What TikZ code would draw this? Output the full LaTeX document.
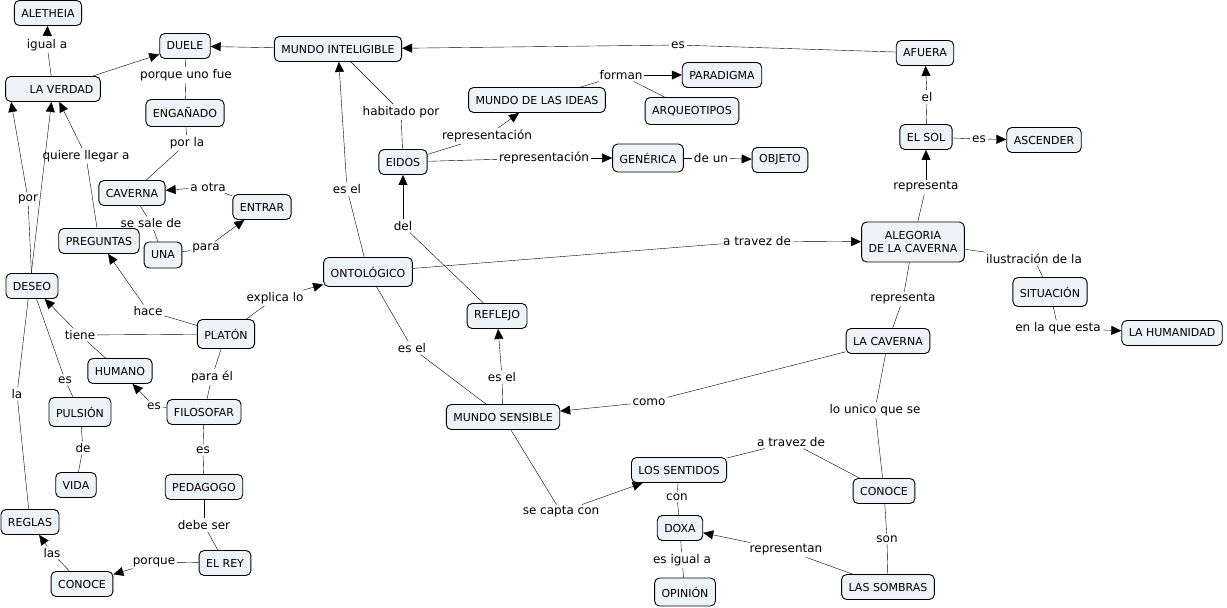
\documentclass[tikz,border=0pt]{standalone}
\usepackage{fontspec}
\setmainfont{DejaVu Sans}
\usetikzlibrary{arrows.meta,backgrounds}
\definecolor{cmapfill}{RGB}{237,243,246}

\begin{document}
\begin{tikzpicture}[x=1pt,y=-1pt,line width=0.9pt,
  concept/.style={draw,fill=cmapfill,rounded corners=5pt,minimum height=25pt,inner xsep=7pt,font=\fontsize{11}{13}\selectfont},
  phrase/.style={inner sep=1.5pt,font=\fontsize{12}{14}\selectfont},
  link/.style={-{Triangle[length=10pt,width=9pt]}}]
\useasboundingbox (0,0) rectangle (1227,608);

% concepts
\node (aletheia) at (48,13)[concept]{ALETHEIA};
\node (duele) at (185,46)[concept]{DUELE};
\node (mintel) at (338,49)[concept]{MUNDO INTELIGIBLE};
\node (verdad) at (53,89)[concept,minimum width=93pt]{\hspace*{17pt}LA VERDAD};
\node (enganado) at (185,113)[concept,minimum height=27pt]{ENGAÑADO};
\node (afuera) at (925,53)[concept]{AFUERA};
\node (paradigma) at (722,75)[concept]{PARADIGMA};
\node (ideas) at (537,100)[concept]{MUNDO DE LAS IDEAS};
\node (arqueo) at (692,111)[concept,minimum height=27pt]{ARQUEOTIPOS};
\node (sol) at (926,137)[concept]{EL SOL};
\node (ascender) at (1044,140)[concept]{ASCENDER};
\node (eidos) at (403,162)[concept]{EIDOS};
\node (generica) at (648,158)[concept,minimum height=28pt]{GENÉRICA};
\node (objeto) at (780,160)[concept]{OBJETO};
\node (caverna) at (132,193)[concept]{CAVERNA};
\node (entrar) at (262,207)[concept]{ENTRAR};
\node (preguntas) at (99,241)[concept]{PREGUNTAS};
\node (una) at (163,255)[concept,minimum height=26pt]{UNA};
\node (alegoria) at (913,242)[concept,align=center,minimum height=40pt]{ALEGORIA\\ DE LA CAVERNA};
\node (ontologico) at (368,272)[concept,minimum height=29pt]{ONTOLÓGICO};
\node (deseo) at (32,286)[concept]{DESEO};
\node (situacion) at (1050,292)[concept,minimum height=29pt]{SITUACIÓN};
\node (reflejo) at (497,316)[concept]{REFLEJO};
\node (platon) at (226,334)[concept,minimum height=29pt]{PLATÓN};
\node (humanidad) at (1172,333)[concept]{LA HUMANIDAD};
\node (lacaverna) at (888,341)[concept]{LA CAVERNA};
\node (humano) at (120,371)[concept]{HUMANO};
\node (pulsion) at (80,412)[concept,minimum height=29pt]{PULSIÓN};
\node (filosofar) at (204,412)[concept]{FILOSOFAR};
\node (msensible) at (503,417)[concept]{MUNDO SENSIBLE};
\node (sentidos) at (679,470)[concept]{LOS SENTIDOS};
\node (conoceb) at (884,491)[concept]{CONOCE};
\node (vida) at (76,485)[concept]{VIDA};
\node (pedagogo) at (204,487)[concept]{PEDAGOGO};
\node (reglas) at (30,522)[concept]{REGLAS};
\node (doxa) at (680,528)[concept]{DOXA};
\node (rey) at (225,563)[concept]{EL REY};
\node (conocea) at (82,584)[concept]{CONOCE};
\node (sombras) at (888,587)[concept]{LAS SOMBRAS};
\node (opinion) at (685,592)[concept,minimum height=28pt]{OPINIÓN};

% linking phrases
\node (igual) at (47,45)[phrase]{igual a};
\node (porque) at (186,75)[phrase]{porque uno fue};
\node (porla) at (187,143)[phrase]{por la};
\node (quiere) at (86,156)[phrase]{quiere llegar a};
\node (aotra) at (208,187)[phrase]{a otra};
\node (sesale) at (151,223)[phrase]{se sale de};
\node (para) at (206,248)[phrase]{para};
\node (por) at (28,199)[phrase]{por};
\node (hace) at (148,311)[phrase]{hace};
\node (explica) at (275,298)[phrase]{explica lo};
\node (tiene) at (80,335)[phrase]{tiene};
\node (parael) at (212,377)[phrase]{para él};
\node (esa) at (65,380)[phrase]{es};
\node (la) at (17,394)[phrase]{la};
\node (esb) at (154,406)[phrase]{es};
\node (de) at (83,448)[phrase]{de};
\node (esc) at (203,450)[phrase]{es};
\node (debe) at (204,525)[phrase]{debe ser};
\node (porq) at (154,562)[phrase]{porque};
\node (las) at (52,553)[phrase]{las};
\node (habitado) at (401,112)[phrase]{habitado por};
\node (forman) at (621,75)[phrase]{forman};
\node (repa) at (487,136)[phrase]{representación};
\node (repb) at (544,158)[phrase]{representación};
\node (deun) at (711,158)[phrase]{de un};
\node (ese) at (678,45)[phrase]{es};
\node (esela) at (347,189)[phrase]{es el};
\node (el) at (927,97)[phrase]{el};
\node (esd) at (979,139)[phrase]{es};
\node (repc) at (926,187)[phrase]{representa};
\node (del) at (403,226)[phrase]{del};
\node (atravesa) at (757,241)[phrase]{a travez de};
\node (eselb) at (412,348)[phrase]{es el};
\node (eselc) at (502,377)[phrase]{es el};
\node (como) at (649,402)[phrase]{como};
\node (ilustra) at (1034,259)[phrase]{ilustración de la};
\node (repd) at (903,299)[phrase]{representa};
\node (enla) at (1058,328)[phrase]{en la que esta};
\node (unico) at (875,410)[phrase]{lo unico que se};
\node (atravesb) at (791,442)[phrase]{a travez de};
\node (capta) at (561,512)[phrase]{se capta con};
\node (con) at (677,497)[phrase]{con};
\node (igualb) at (682,560)[phrase]{es igual a};
\node (representan) at (786,550)[phrase]{representan};
\node (son) at (887,539)[phrase]{son};

\begin{pgfonlayer}{background}
\draw (verdad) -- (igual); \draw[link] (igual) -- (aletheia);
\draw[link] (verdad) -- (duele);
\draw[link] (mintel) -- (duele);
\draw (duele) -- (porque); \draw (porque) -- (enganado);
\draw (enganado) -- (porla); \draw (porla) -- (caverna);
\draw (entrar) -- (aotra); \draw[link] (aotra) -- (caverna);
\draw (caverna) -- (sesale); \draw (sesale) -- (una);
\draw (una) -- (para); \draw[link] (para) -- (entrar);
\draw (deseo) -- (por); \draw[link] (por) -- ([xshift=6pt]verdad.south west);
\draw (reglas) -- (la); \draw[link] (la) -- (verdad);
\draw (preguntas) -- (quiere); \draw[link] (quiere) -- (verdad);
\draw (platon) -- (hace); \draw[link] (hace) -- (preguntas);
\draw (platon) -- (tiene); \draw (humano) -- (tiene); \draw[link] (tiene) -- (deseo);
\draw (platon) -- (explica); \draw[link] (explica) -- (ontologico);
\draw (platon) -- (parael); \draw (parael) -- (filosofar);
\draw (filosofar) -- (esb); \draw[link] (esb) -- (humano);
\draw (deseo) -- (esa); \draw (esa) -- (pulsion);
\draw (pulsion) -- (de); \draw (de) -- (vida);
\draw (filosofar) -- (esc); \draw (esc) -- (pedagogo);
\draw (pedagogo) -- (debe); \draw (debe) -- (rey);
\draw (rey) -- (porq); \draw[link] (porq) -- (conocea);
\draw (conocea) -- (las); \draw[link] (las) -- (reglas);
\draw (mintel) -- (habitado); \draw (habitado) -- (eidos);
\draw (ontologico) -- (esela); \draw[link] (esela) -- (mintel);
\draw (ontologico) -- (atravesa); \draw[link] (atravesa) -- (alegoria);
\draw (ontologico) -- (eselb); \draw (eselb) -- (msensible);
\draw (eidos) -- (repa); \draw[link] (repa) -- (ideas);
\draw (eidos) -- (repb); \draw[link] (repb) -- (generica);
\draw (generica) -- (deun); \draw[link] (deun) -- (objeto);
\draw (ideas) -- (forman); \draw[link] (forman) -- (paradigma); \draw (forman) -- (arqueo);
\draw (reflejo) -- (del); \draw[link] (del) -- (eidos);
\draw (msensible) -- (eselc); \draw[link] (eselc) -- (reflejo);
\draw (msensible) -- (capta); \draw[link] (capta) -- (sentidos);
\draw (lacaverna) -- (como); \draw[link] (como) -- (msensible);
\draw (lacaverna) -- (unico); \draw (unico) -- (conoceb);
\draw (conoceb) -- (atravesb); \draw (atravesb) -- (sentidos);
\draw (sentidos) -- (con); \draw (con) -- (doxa);
\draw (doxa) -- (igualb); \draw (igualb) -- (opinion);
\draw (sombras) -- (representan); \draw[link] (representan) -- (doxa);
\draw (conoceb) -- (son); \draw (son) -- (sombras);
\draw (alegoria) -- (repc); \draw[link] (repc) -- (sol);
\draw (alegoria) -- (repd); \draw (repd) -- (lacaverna);
\draw (sol) -- (el); \draw[link] (el) -- (afuera);
\draw (sol) -- (esd); \draw[link] (esd) -- (ascender);
\draw (afuera) -- (ese); \draw[link] (ese) -- (mintel);
\draw (alegoria) -- (ilustra); \draw (ilustra) -- (situacion);
\draw (situacion) -- (enla); \draw[link] (enla) -- (humanidad);
\end{pgfonlayer}
\end{tikzpicture}
\end{document}
